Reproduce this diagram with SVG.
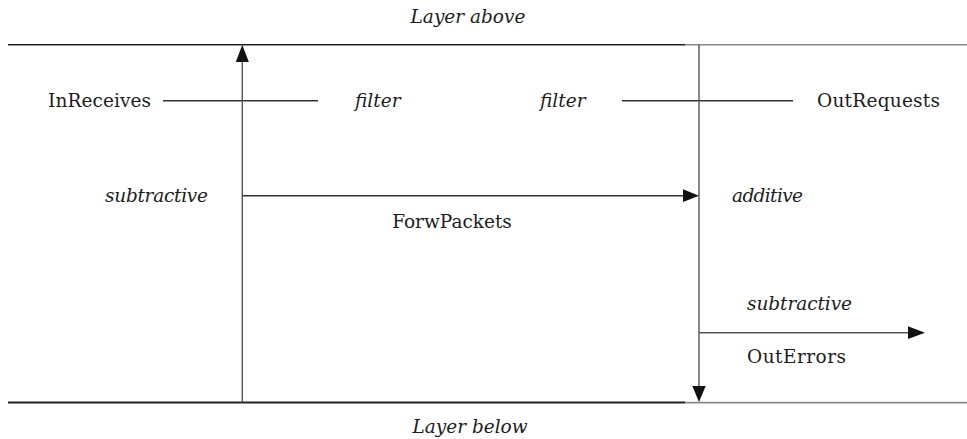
<svg xmlns="http://www.w3.org/2000/svg" width="967" height="439" viewBox="0 0 967 439">
  <style>
    text { font-family: "DejaVu Serif", "Liberation Serif", serif; font-size: 18.5px; fill: #1c1c1c; }
    .it { font-style: italic; }
    .layer-dark { stroke: #222; stroke-width: 1.6; fill: none; }
    .layer-light { stroke: #888; stroke-width: 1.6; fill: none; }
    .flow { stroke: #555; stroke-width: 1.4; fill: none; }
    .tick { stroke: #333; stroke-width: 1.4; fill: none; }
    .head { fill: #111; stroke: none; }
  </style>

  <!-- layer boundaries -->
  <g id="layer-above">
    <line class="layer-dark" x1="8" y1="44.7" x2="685" y2="44.7"/>
    <line class="layer-light" x1="685" y1="44.7" x2="967" y2="44.7"/>
    <text class="it" x="468" y="23" text-anchor="middle">Layer above</text>
  </g>
  <g id="layer-below">
    <line class="layer-dark" x1="8" y1="402.6" x2="685" y2="402.6" style="stroke-width:2"/>
    <line class="layer-light" x1="685" y1="402.6" x2="967" y2="402.6"/>
    <text class="it" x="470" y="433" text-anchor="middle">Layer below</text>
  </g>

  <!-- counters -->
  <g id="in-receives">
    <text x="48" y="106.7" textLength="103">InReceives</text>
    <line class="tick" x1="163" y1="100.7" x2="318" y2="100.7"/>
    <text class="it" x="355" y="106.7">filter</text>
  </g>
  <g id="out-requests">
    <text class="it" x="540" y="106.7">filter</text>
    <line class="tick" x1="622" y1="100.7" x2="793" y2="100.7"/>
    <text x="817" y="106.7" textLength="123">OutRequests</text>
  </g>
  <g id="in-subtractive">
    <text class="it" x="105" y="201.7" textLength="103">subtractive</text>
  </g>
  <g id="forw-packets">
    <text x="452" y="228" text-anchor="middle">ForwPackets</text>
  </g>
  <g id="out-additive">
    <text class="it" x="732" y="202" textLength="71">additive</text>
  </g>
  <g id="out-errors">
    <text class="it" x="747" y="310" textLength="105">subtractive</text>
    <text x="747" y="362.7" textLength="99">OutErrors</text>
  </g>

  <!-- packet paths -->
  <g id="connectors">
    <line class="flow" x1="242.3" y1="402.6" x2="242.3" y2="60"/>
    <polygon class="head" points="242.3,44.7 235.8,62 248.8,62"/>

    <line class="flow" x1="699" y1="44.7" x2="699" y2="388"/>
    <polygon class="head" points="699,402 692.3,386 705.7,386"/>

    <line class="tick" x1="242.3" y1="195.7" x2="685" y2="195.7"/>
    <polygon class="head" points="699,195.7 683,189.3 683,202.1"/>

    <line class="flow" x1="699" y1="332.7" x2="910" y2="332.7"/>
    <polygon class="head" points="925,332.7 908,326.3 908,339.1"/>
  </g>
</svg>
